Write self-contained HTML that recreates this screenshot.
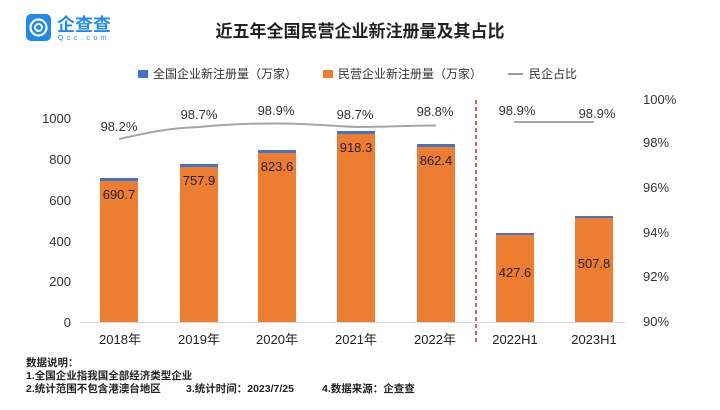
<!DOCTYPE html>
<html><head><meta charset="utf-8"><style>
html,body{margin:0;padding:0;background:#fff;}
svg text{font-family:"Liberation Sans","Noto Sans CJK SC",sans-serif;}
</style></head><body>
<svg width="720" height="405" viewBox="0 0 720 405" xmlns="http://www.w3.org/2000/svg">
<rect width="720" height="405" fill="#fff"/>
<rect x="26" y="14" width="25" height="27" rx="5" fill="#1e8bf0"/>
<circle cx="38.5" cy="27.5" r="8" fill="none" stroke="#fff" stroke-width="2.2"/>
<circle cx="38.5" cy="27.5" r="3.5" fill="none" stroke="#fff" stroke-width="2"/>
<text x="57" y="31" font-size="18" fill="#1e8bf0" font-weight="bold">企查查</text>
<text x="58" y="40" font-size="7" fill="#1e8bf0" letter-spacing="3.5">Qcc.com</text>
<text x="360" y="37" font-size="17" font-weight="bold" text-anchor="middle" fill="#222">近五年全国民营企业新注册量及其占比</text>
<rect x="138" y="70" width="10" height="8" fill="#4472c4"/>
<text x="153" y="78" font-size="12" fill="#333">全国企业新注册量（万家）</text>
<rect x="323" y="70" width="10" height="8" fill="#ed7d31"/>
<text x="338" y="78" font-size="12" fill="#333">民营企业新注册量（万家）</text>
<line x1="508" y1="74" x2="523" y2="74" stroke="#999" stroke-width="2"/>
<text x="529" y="78" font-size="12" fill="#333">民企占比</text>
<g font-size="13" fill="#333" text-anchor="end">
<text x="71" y="123">1000</text><text x="71" y="164">800</text><text x="71" y="205">600</text>
<text x="71" y="246">400</text><text x="71" y="286">200</text><text x="71" y="327">0</text>
</g>
<g font-size="13" fill="#333">
<text x="643" y="104">100%</text><text x="643" y="147">98%</text><text x="643" y="192">96%</text>
<text x="643" y="237">94%</text><text x="643" y="281">92%</text><text x="643" y="326">90%</text>
</g>
<line x1="80" y1="322.5" x2="625" y2="322.5" stroke="#d9d9d9" stroke-width="1"/>
<g>
<rect x="100" y="178" width="38" height="144" fill="#ed7d31"/><rect x="100" y="178" width="38" height="3" fill="#4472c4"/>
<rect x="180" y="164" width="38" height="158" fill="#ed7d31"/><rect x="180" y="164" width="38" height="3" fill="#4472c4"/>
<rect x="258" y="150" width="38" height="172" fill="#ed7d31"/><rect x="258" y="150" width="38" height="3" fill="#4472c4"/>
<rect x="337" y="131" width="38" height="191" fill="#ed7d31"/><rect x="337" y="131" width="38" height="3" fill="#4472c4"/>
<rect x="417" y="144" width="38" height="178" fill="#ed7d31"/><rect x="417" y="144" width="38" height="3" fill="#4472c4"/>
<rect x="496" y="233" width="38" height="89" fill="#ed7d31"/><rect x="496" y="233" width="38" height="2" fill="#4472c4"/>
<rect x="575" y="216" width="38" height="106" fill="#ed7d31"/><rect x="575" y="216" width="38" height="2" fill="#4472c4"/>
</g>
<g font-size="13" fill="#222" text-anchor="middle">
<text x="119" y="199">690.7</text><text x="199" y="185">757.9</text><text x="277" y="171">823.6</text>
<text x="356" y="152">918.3</text><text x="436" y="165">862.4</text><text x="515" y="277">427.6</text><text x="594" y="268">507.8</text>
</g>
<path d="M119,139 C150,132 170,128 199,127 C230,124 250,123.5 277,123.5 C310,123.5 330,126 356,127 C390,127 410,125.5 436,125.5" fill="none" stroke="#a5a5a5" stroke-width="2"/>
<line x1="514" y1="122" x2="594" y2="122" stroke="#a5a5a5" stroke-width="2"/>
<g font-size="13" fill="#333" text-anchor="middle">
<text x="119" y="131">98.2%</text><text x="199" y="119">98.7%</text><text x="276" y="115">98.9%</text>
<text x="355" y="119">98.7%</text><text x="435" y="116">98.8%</text><text x="517" y="115">98.9%</text><text x="597" y="118">98.9%</text>
</g>
<line x1="476" y1="100" x2="476" y2="345" stroke="#e02020" stroke-width="1.5" stroke-dasharray="4,3"/>
<g font-size="13" fill="#222" text-anchor="middle">
<text x="120" y="344">2018年</text><text x="199" y="344">2019年</text><text x="277" y="344">2020年</text>
<text x="356" y="344">2021年</text><text x="435" y="344">2022年</text><text x="515" y="344">2022H1</text><text x="594" y="344">2023H1</text>
</g>
<g font-size="10.5" font-weight="bold" fill="#222">
<text x="26" y="366">数据说明：</text>
<text x="26" y="379">1.全国企业指我国全部经济类型企业</text>
<text x="26" y="392">2.统计范围不包含港澳台地区</text>
<text x="186" y="392">3.统计时间：2023/7/25</text>
<text x="322" y="392">4.数据来源：企查查</text>
</g>
</svg>
</body></html>
